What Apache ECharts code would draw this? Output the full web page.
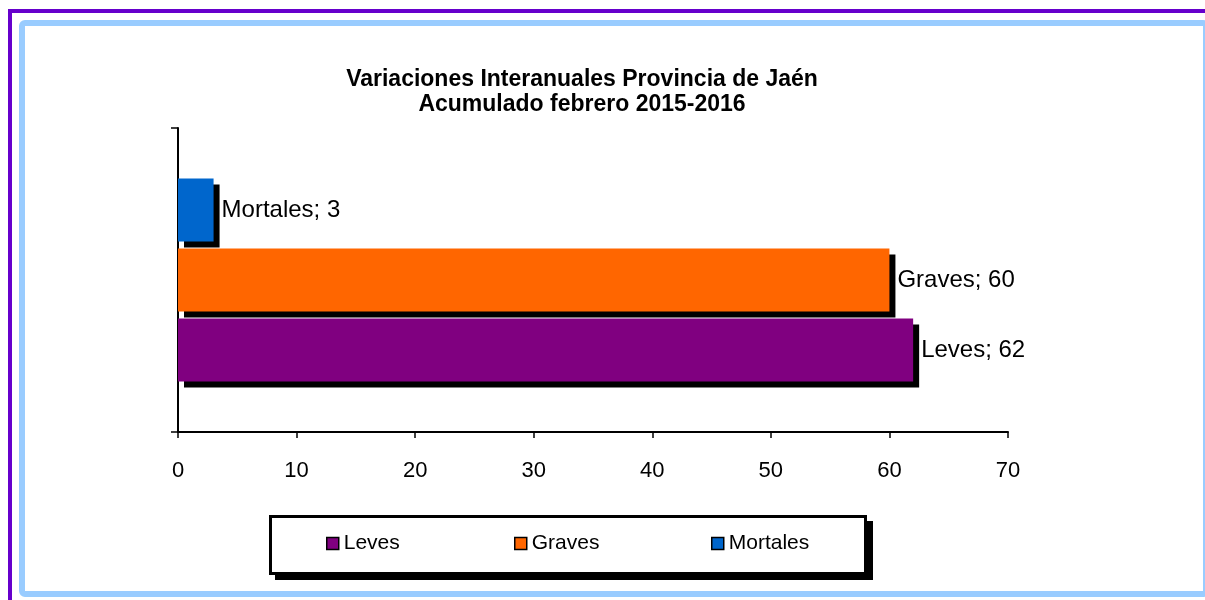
<!DOCTYPE html>
<html>
<head>
<meta charset="utf-8">
<script src="https://cdn.jsdelivr.net/npm/echarts@6/dist/echarts.min.js"></script>
<style>
html,body{margin:0;padding:0;background:#fff;}
#chart{width:1205px;height:600px;}
</style>
</head>
<body>
<div id="chart"></div>
<script>
// ---- data ----
const titleLines = ['Variaciones Interanuales Provincia de Jaén', 'Acumulado febrero 2015-2016'];
const seriesNames = ['Leves', 'Graves', 'Mortales'];
const seriesValues = [62, 60, 3];
const seriesColors = ['#800080', '#ff6600', '#0066cc'];
const categories = [''];
const xMin = 0, xMax = 70, xInterval = 10;

const FONT = '"Liberation Sans", Arial, sans-serif';
const legendLefts = [326, 514, 711];

const chart = echarts.init(document.getElementById('chart'), null, {renderer: 'canvas'});

// In a horizontal bar band ECharts stacks the first series on top; the reference
// has Leves at the bottom, so the series are added in reverse order.
const series = seriesNames.map((name, i) => ({
  name: name,
  type: 'bar',
  data: [seriesValues[i]],
  barWidth: 63,
  barGap: '11%',
  itemStyle: {
    color: seriesColors[i],
    borderWidth: 0,
    shadowColor: '#000',
    shadowBlur: 0,
    shadowOffsetX: 6,
    shadowOffsetY: 6
  },
  label: {
    show: true,
    position: 'right',
    distance: 8,
    formatter: '{a}; {c}',
    color: '#000',
    fontSize: 24,
    fontFamily: FONT
  },
  emphasis: {disabled: true},
  animation: false
})).reverse();

const legends = seriesNames.map((name, i) => ({
  data: [name],
  left: legendLefts[i],
  top: 533,
  padding: 0,
  icon: 'rect',
  itemWidth: 12,
  itemHeight: 12,
  selectedMode: false,
  itemStyle: {borderColor: '#000', borderWidth: 1.5, shadowBlur: 0, shadowOffsetX: 0, shadowOffsetY: 0, shadowColor: 'rgba(0,0,0,0)'},
  textStyle: {color: '#000', fontSize: 21, fontFamily: FONT}
}));

chart.setOption({
  backgroundColor: '#fff',
  animation: false,
  title: {
    text: titleLines.join('\n'),
    left: 582,
    textAlign: 'center',
    top: 67,
    padding: 0,
    textStyle: {color: '#000', fontSize: 23, fontWeight: 'bold', fontFamily: FONT, lineHeight: 25}
  },
  graphic: [
    {type: 'rect', z: -10, silent: true, shape: {x: 10, y: 11, width: 1400, height: 800},
      style: {fill: 'none', stroke: '#6600cc', lineWidth: 4}},
    {type: 'rect', z: -9, silent: true, shape: {x: 22, y: 23, width: 1184, height: 571, r: 3},
      style: {fill: 'none', stroke: '#99ccff', lineWidth: 6}},
    {type: 'rect', z: -8, silent: true, shape: {x: 275, y: 521, width: 598, height: 59},
      style: {fill: '#000'}},
    {type: 'rect', z: -7, silent: true, shape: {x: 270.5, y: 516.5, width: 595, height: 57},
      style: {fill: '#fff', stroke: '#000', lineWidth: 3}}
  ],
  legend: legends,
  grid: {left: 178, right: 197, top: 128, bottom: 168, containLabel: false},
  xAxis: {
    type: 'value',
    min: xMin,
    max: xMax,
    interval: xInterval,
    axisLine: {show: true, lineStyle: {color: '#000', width: 2}},
    axisTick: {show: true, length: 6, lineStyle: {color: '#000', width: 1.5}},
    splitLine: {show: false},
    axisLabel: {color: '#000', fontSize: 22, fontFamily: FONT, margin: 28}
  },
  yAxis: {
    type: 'category',
    data: categories,
    axisLine: {show: true, lineStyle: {color: '#000', width: 2}},
    axisTick: {show: true, length: 7, lineStyle: {color: '#000', width: 1.5}},
    axisLabel: {show: false},
    splitLine: {show: false}
  },
  series: series
});
</script>
</body>
</html>
